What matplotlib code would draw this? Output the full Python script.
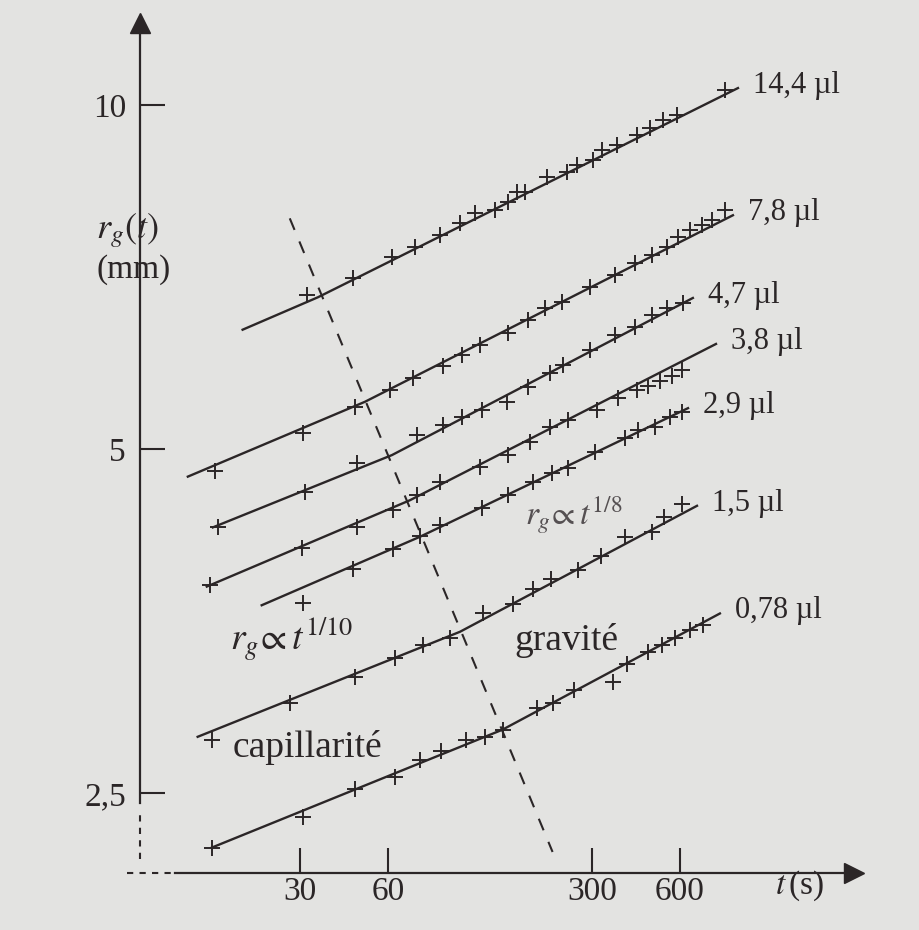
import matplotlib
matplotlib.use("Agg")
import matplotlib.pyplot as plt
from matplotlib.ticker import FixedLocator, NullLocator

# drop volumes (labels at the end of each curve)
vol_labels = ["14,4 µl", "7,8 µl", "4,7 µl", "3,8 µl", "2,9 µl", "1,5 µl", "0,78 µl"]

t_144 = [31.7, 45.6, 62, 74.3, 90.5, 106, 119, 140, 155, 166, 177, 210, 246, 266, 302, 325, 365, 428, 474, 525, 586, 856]
r_144 = [6.82, 7.06, 7.36, 7.51, 7.70, 7.88, 8.04, 8.09, 8.22, 8.39, 8.39, 8.65, 8.74, 8.86, 8.95, 9.13, 9.23, 9.42, 9.55, 9.70, 9.80, 10.3]
t_78 = [15.4, 30.7, 46.3, 61, 73.1, 92.7, 108, 124, 155, 181, 207, 237, 295, 360, 421, 481, 542, 591, 650, 714, 773, 856]
r_78 = [4.78, 5.16, 5.44, 5.63, 5.77, 5.91, 6.04, 6.17, 6.32, 6.48, 6.64, 6.72, 6.93, 7.10, 7.27, 7.39, 7.51, 7.66, 7.77, 7.85, 7.93, 8.09]
t_47 = [15.7, 31.2, 47, 75.5, 92.7, 108, 126, 154, 181, 215, 239, 295, 360, 421, 481, 542, 615]
r_47 = [4.27, 4.59, 4.86, 5.14, 5.25, 5.33, 5.41, 5.50, 5.67, 5.83, 5.92, 6.11, 6.29, 6.39, 6.55, 6.64, 6.71]
t_38 = [14.8, 30.5, 47, 62.5, 75.5, 90.5, 124, 155, 184, 215, 248, 312, 368, 428, 466, 513, 564, 610]
r_38 = [3.80, 4.10, 4.27, 4.42, 4.56, 4.68, 4.82, 4.94, 5.07, 5.23, 5.30, 5.41, 5.54, 5.63, 5.68, 5.73, 5.79, 5.86]
t_29 = [30.7, 45.6, 62.5, 77.3, 90.5, 126, 155, 188, 219, 248, 307, 389, 431, 493, 555, 610]
r_29 = [3.67, 3.93, 4.09, 4.20, 4.29, 4.44, 4.56, 4.68, 4.76, 4.81, 4.97, 5.11, 5.20, 5.23, 5.33, 5.39]
t_15 = [15.0, 27.7, 46.3, 63.5, 79.1, 97.9, 127, 161, 188, 217, 269, 322, 389, 481, 529, 610]
r_15 = [2.78, 3.00, 3.16, 3.28, 3.37, 3.42, 3.59, 3.66, 3.77, 3.85, 3.92, 4.03, 4.19, 4.23, 4.36, 4.48]
t_078 = [15.0, 30.7, 46.3, 63.5, 77.3, 91.2, 111, 129, 149, 194, 220, 260, 354, 395, 466, 521, 577, 650, 720]
r_078 = [2.24, 2.38, 2.52, 2.58, 2.67, 2.72, 2.78, 2.80, 2.84, 2.97, 3.00, 3.08, 3.13, 3.24, 3.32, 3.37, 3.42, 3.47, 3.51]

# fitted power laws: start, crossover, end
fit_t_144 = [19.1, 34.6, 949]
fit_r_144 = [6.36, 6.79, 10.35]
fit_t_78 = [12.4, 50.1, 912]
fit_r_78 = [4.73, 5.50, 8.01]
fit_t_47 = [15.1, 62, 665]
fit_r_47 = [4.27, 4.94, 6.78]
fit_t_38 = [14.4, 71.4, 798]
fit_r_38 = [3.79, 4.51, 6.18]
fit_t_29 = [22.2, 77.3, 640]
fit_r_29 = [3.65, 4.19, 5.43]
fit_t_15 = [13.4, 106, 687]
fit_r_15 = [2.80, 3.46, 4.46]
fit_t_078 = [15.0, 148, 823]
fit_r_078 = [2.24, 2.84, 3.59]

# crossover capillarity -> gravity
cross_t = [27.7, 220]
cross_r = [7.96, 2.22]

x_ticks = [30, 60, 300, 600]
x_ticklabels = ["30", "60", "300", "600"]
y_ticks = [2.5, 5, 10]
y_ticklabels = ["2,5", "5", "10"]

INK = '#2b2627'
PAPER = '#e3e3e1'
AXIS_T = 8.5      # where the r axis stands
AXIS_R = 2.13     # where the t axis stands

plt.rcParams['font.family'] = ['Liberation Serif', 'DejaVu Serif']
plt.rcParams['mathtext.fontset'] = 'stix'

fig = plt.figure(figsize=(9.19, 9.30), dpi=100, facecolor=PAPER)
ax = fig.add_axes([0, 0, 1, 1])
ax.set_facecolor(PAPER)
ax.set_xscale('log')
ax.set_yscale('log')
ax.set_xlim(2.82, 3955)
ax.set_ylim(1.897, 12.36)

series = [
    (t_144, r_144, fit_t_144, fit_r_144),
    (t_78, r_78, fit_t_78, fit_r_78),
    (t_47, r_47, fit_t_47, fit_r_47),
    (t_38, r_38, fit_t_38, fit_r_38),
    (t_29, r_29, fit_t_29, fit_r_29),
    (t_15, r_15, fit_t_15, fit_r_15),
    (t_078, r_078, fit_t_078, fit_r_078),
]
for (t, r, ft, fr), lab in zip(series, vol_labels):
    ax.plot(ft, fr, '-', color=INK, lw=1.7)
    ax.plot(t, r, '+', color=INK, ms=12, mew=1.4, ls='none')
    ax.annotate(lab, (ft[-1], fr[-1]), xytext=(11, 2), textcoords='offset points',
                ha='left', va='center', fontsize=22, color=INK)

ax.plot(cross_t, cross_r, color=INK, lw=1.5, ls=(0, (6, 6)))

# axes: spines with arrows, broken near the origin
for s in ['top', 'right']:
    ax.spines[s].set_visible(False)
ax.spines['left'].set_position(('data', AXIS_T))
ax.spines['bottom'].set_position(('data', AXIS_R))
ax.spines['left'].set_bounds(2.45, 11.7)
ax.spines['bottom'].set_bounds(11.2, 2300)
for s in ['left', 'bottom']:
    ax.spines[s].set_color(INK)
    ax.spines[s].set_linewidth(1.6)
ax.plot([AXIS_T], [11.8], marker='^', ms=14, color=INK, clip_on=False)
ax.plot([2360], [AXIS_R], marker='>', ms=14, color=INK, clip_on=False)
ax.plot([AXIS_T, AXIS_T], [2.19, 2.42], color=INK, lw=1.5, ls=(0, (3, 3)))
ax.plot([7.7, 11.1], [AXIS_R, AXIS_R], color=INK, lw=1.5, ls=(0, (3, 3)))

ax.xaxis.set_major_locator(FixedLocator(x_ticks))
ax.xaxis.set_minor_locator(NullLocator())
ax.set_xticklabels(x_ticklabels)
ax.yaxis.set_major_locator(FixedLocator(y_ticks))
ax.yaxis.set_minor_locator(NullLocator())
ax.set_yticklabels(y_ticklabels)
ax.tick_params(axis='x', direction='in', length=18, width=1.5, color=INK,
               labelsize=24, labelcolor=INK, pad=3)
ax.tick_params(axis='y', direction='in', length=18, width=1.5, color=INK,
               labelsize=24, labelcolor=INK, pad=10)

ax.text(0.105, 0.752, r'$r_g(t)$', transform=ax.transAxes, fontsize=26,
        color=INK, ha='left', va='center')
ax.text(0.105, 0.710, '(mm)', transform=ax.transAxes, fontsize=24,
        color=INK, ha='left', va='center')
ax.text(0.843, 0.048, r'$t\,$(s)', transform=ax.transAxes, fontsize=24,
        color=INK, ha='left', va='center')

ax.text(17.3, 3.40, r'$r_g\!\propto t^{1/10}$', fontsize=27, color=INK,
        ha='left', va='center')
ax.text(177, 4.38, r'$r_g\!\propto t^{1/8}$', fontsize=24, color='#555052',
        ha='left', va='center')
ax.text(163, 3.40, 'gravité', fontsize=27, color=INK, ha='left', va='center')
ax.text(17.6, 2.74, 'capillarité', fontsize=27, color=INK, ha='left', va='center')

fig.savefig('out.png', dpi=100, facecolor=PAPER)
